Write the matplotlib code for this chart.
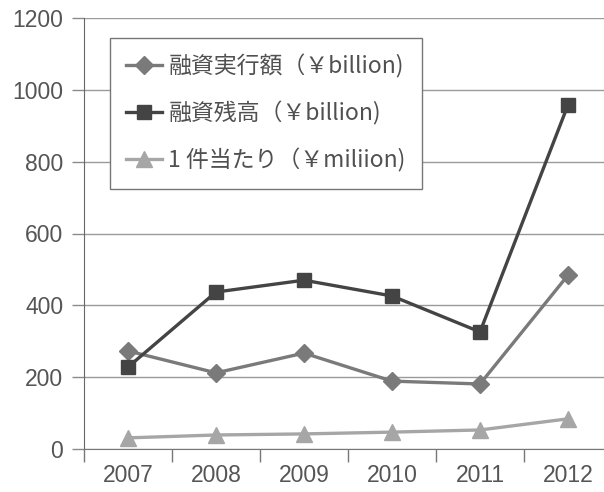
import matplotlib
matplotlib.use("Agg")
import matplotlib.pyplot as plt
import numpy as np

years = ["2007", "2008", "2009", "2010", "2011", "2012"]
loan_exec = [273, 212, 267, 189, 181, 484]      # 融資実行額 (¥billion)
loan_balance = [228, 437, 470, 426, 326, 958]   # 融資残高 (¥billion)
per_case = [31, 39, 42, 47, 53, 84]             # 1件当たり (¥million)
y_ticks = [0, 200, 400, 600, 800, 1000, 1200]

labels = ["融資実行額（￥billion)", "融資残高（￥billion)", "1 件当たり（￥miliion)"]

plt.rcParams['font.family'] = ['Liberation Sans', 'Noto Sans CJK JP', 'DejaVu Sans']

fig = plt.figure(figsize=(6.04, 4.92), dpi=100)
ax = fig.add_axes([84 / 604, 43 / 492, 528 / 604, 431 / 492])

x = np.arange(len(years))
ax.plot(x, loan_exec, color="#7a7a7a", lw=2.4, marker="D", ms=9, label=labels[0], zorder=3)
ax.plot(x, loan_balance, color="#444444", lw=2.4, marker="s", ms=10, label=labels[1], zorder=3)
ax.plot(x, per_case, color="#a6a6a6", lw=2.4, marker="^", ms=11, label=labels[2], zorder=3)

ax.set_xlim(-0.5, len(years) - 0.5)
ax.set_ylim(0, 1200)
ax.set_yticks(y_ticks)
ax.yaxis.grid(True, color="#9a9a9a", lw=1.0)
ax.set_axisbelow(True)

ax.set_xticks(x)
ax.set_xticklabels(years)
ax.set_xticks(np.arange(len(years) + 1) - 0.5, minor=True)
ax.tick_params(axis="x", which="major", length=0, pad=11, labelsize=16.5, labelcolor="#555555")
ax.tick_params(axis="x", which="minor", length=9, width=1, color="#777777", direction="out")
ax.tick_params(axis="y", length=9, width=1, color="#8a8a8a", pad=6, labelsize=16.5, labelcolor="#555555")

for s in ["top", "right"]:
    ax.spines[s].set_visible(False)
ax.spines["left"].set_color("#666666")
ax.spines["bottom"].set_color("#777777")

leg = ax.legend(loc="upper left", bbox_to_anchor=(110 / 604, 1 - 38 / 492),
                bbox_transform=fig.transFigure, fancybox=False, framealpha=1,
                edgecolor="#777777", handlelength=1.55, borderaxespad=0,
                handletextpad=0.3, labelspacing=1.0, borderpad=0.7,
                prop={'family': ['Noto Sans CJK JP', 'DejaVu Sans'], 'size': 16.5})
leg.get_frame().set_linewidth(1.0)
for t in leg.get_texts():
    t.set_color("#505050")

fig.savefig("out.png", dpi=100)
